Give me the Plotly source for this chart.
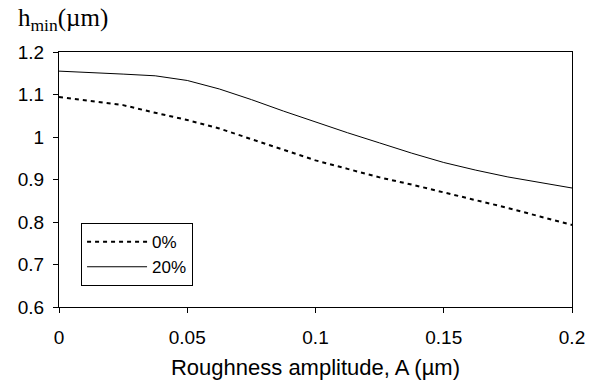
import plotly.graph_objects as go

x_vals = [0, 0.0125, 0.025, 0.0375, 0.05, 0.0625, 0.075, 0.0875, 0.1,
          0.1125, 0.125, 0.1375, 0.15, 0.1625, 0.175, 0.1875, 0.2]
h_0 = [1.094, 1.085, 1.075, 1.057, 1.040, 1.020, 0.995, 0.970, 0.945,
       0.925, 0.905, 0.888, 0.870, 0.852, 0.833, 0.813, 0.793]
h_20 = [1.155, 1.152, 1.148, 1.144, 1.133, 1.113, 1.088, 1.061, 1.035,
        1.010, 0.986, 0.962, 0.940, 0.922, 0.906, 0.893, 0.880]
names = ["0%", "20%"]
x_ticks = [0, 0.05, 0.1, 0.15, 0.2]
x_tick_labels = ["0", "0.05", "0.1", "0.15", "0.2"]
y_ticks = [0.6, 0.7, 0.8, 0.9, 1.0, 1.1, 1.2]
y_tick_labels = ["0.6", "0.7", "0.8", "0.9", "1", "1.1", "1.2"]

fig = go.Figure()
fig.add_trace(go.Scatter(x=x_vals, y=h_0, mode="lines", name=names[0],
                         line=dict(color="black", width=2, dash="4px,4px")))
fig.add_trace(go.Scatter(x=x_vals, y=h_20, mode="lines", name=names[1],
                         line=dict(color="black", width=1)))

font_main = "Liberation Sans, Arial, sans-serif"
fig.update_layout(
    width=600, height=383,
    margin=dict(l=59, r=28, t=52, b=76),
    paper_bgcolor="white", plot_bgcolor="white",
    font=dict(family=font_main, color="black", size=17),
    showlegend=True,
    legend=dict(x=0.043, y=0.329, xanchor="left", yanchor="top",
                bordercolor="black", borderwidth=1, bgcolor="white",
                font=dict(size=17, family=font_main), itemwidth=60,
                tracegroupgap=0),
    xaxis=dict(range=[0, 0.2], tickvals=x_ticks, ticktext=x_tick_labels,
               showgrid=False, zeroline=False, showline=True, linecolor="black",
               linewidth=1, mirror=True, ticks="outside", ticklen=5,
               tickcolor="black", ticklabelstandoff=8, automargin=False,
               tickfont=dict(size=19, family=font_main),
               title=dict(text="Roughness amplitude, A (µm)", standoff=12,
                          font=dict(size=22, family=font_main))),
    yaxis=dict(range=[0.6, 1.2], tickvals=y_ticks, ticktext=y_tick_labels,
               showgrid=False, zeroline=False, showline=True, linecolor="black",
               linewidth=1, mirror=True, ticks="outside", ticklen=5,
               tickcolor="black", ticklabelstandoff=5, automargin=False,
               tickfont=dict(size=19, family=font_main)),
    annotations=[dict(text="h<sub>min</sub>(µm)", xref="paper", yref="paper",
                      x=-0.083, y=1.0, xanchor="left", yanchor="bottom",
                      yshift=15, showarrow=False,
                      font=dict(size=25, family="Liberation Serif, Times New Roman, serif"))],
)

fig.write_html("out.html")
